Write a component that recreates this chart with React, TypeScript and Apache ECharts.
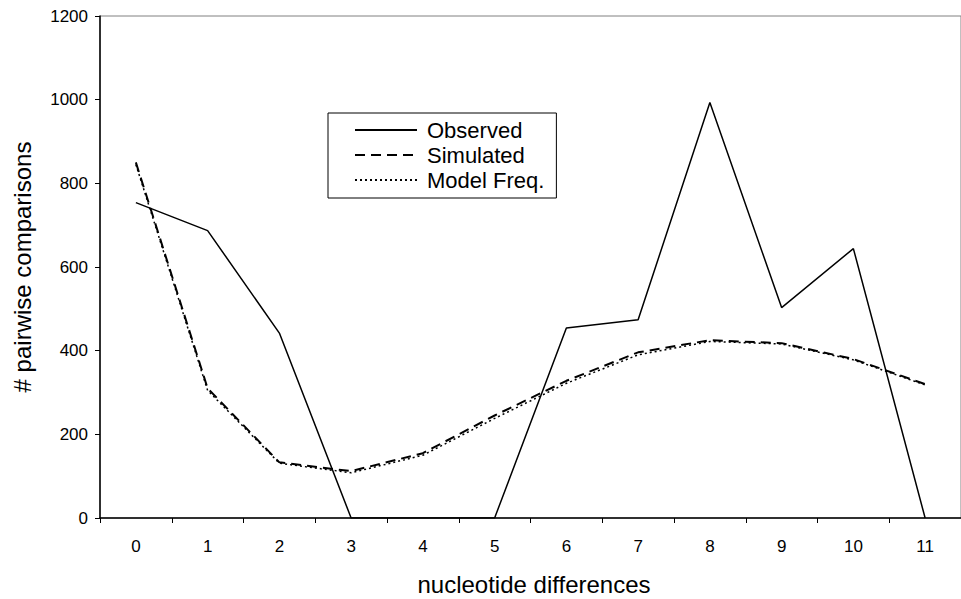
import React, { useEffect, useRef } from "react";
import * as echarts from "echarts";

const categories = ["0", "1", "2", "3", "4", "5", "6", "7", "8", "9", "10", "11"];
const observed = [754, 687, 442, 0, 0, 0, 454, 474, 993, 503, 644, 0];
const simulated = [850, 310, 133, 112, 155, 245, 328, 396, 425, 418, 380, 320];
const modelFreq = [845, 305, 131, 108, 150, 238, 322, 390, 422, 416, 378, 318];
const yTicks = { min: 0, max: 1200, interval: 200 };

const FONT = "Liberation Sans, Arial, Helvetica, sans-serif";

export default function App() {
  const ref = useRef<HTMLDivElement>(null);
  useEffect(() => {
    if (!ref.current) return;
    const chart = echarts.init(ref.current, undefined, { renderer: "svg" });
    chart.setOption({
      animation: false,
      backgroundColor: "#ffffff",
      textStyle: { fontFamily: FONT },
      grid: {
        left: 100,
        top: 16,
        width: 868,
        height: 502,
        show: true,
        borderColor: "#808080",
        borderWidth: 1,
        containLabel: false,
      },
      legend: {
        orient: "vertical",
        left: 328,
        top: 113,
        padding: [6, 12, 7, 26],
        itemGap: 3,
        itemWidth: 62,
        itemHeight: 14,
        borderColor: "#000",
        borderWidth: 1,
        backgroundColor: "#fff",
        itemStyle: { opacity: 0 },
        textStyle: {
          fontSize: 22,
          lineHeight: 20,
          color: "#000",
          fontFamily: FONT,
          padding: [0, 0, 0, 5],
        },
        data: ["Observed", "Simulated", "Model Freq."],
      },
      xAxis: {
        type: "category",
        data: categories,
        boundaryGap: true,
        axisLine: { lineStyle: { color: "#000", width: 1.5 } },
        axisTick: { show: true, interval: 0, length: 5, lineStyle: { color: "#000" } },
        axisLabel: { color: "#000", fontSize: 17, margin: 20, interval: 0, fontFamily: FONT },
        splitLine: { show: false },
      },
      yAxis: {
        type: "value",
        min: yTicks.min,
        max: yTicks.max,
        interval: yTicks.interval,
        axisLine: { show: true, lineStyle: { color: "#000", width: 1.5 } },
        axisTick: { show: true, length: 5, lineStyle: { color: "#000" } },
        axisLabel: {
          color: "#000",
          fontSize: 17,
          margin: 12,
          fontFamily: FONT,
          formatter: (v: number) => String(v),
        },
        splitLine: { show: false },
      },
      graphic: [
        {
          type: "text",
          x: 534,
          y: 584,
          style: {
            text: "nucleotide differences",
            fontSize: 24,
            fontFamily: FONT,
            fill: "#000",
            align: "center",
            verticalAlign: "middle",
          },
        },
        {
          type: "text",
          x: 22,
          y: 267,
          rotation: Math.PI / 2,
          style: {
            text: "# pairwise comparisons",
            fontSize: 24,
            fontFamily: FONT,
            fill: "#000",
            align: "center",
            verticalAlign: "middle",
          },
        },
      ],
      series: [
        {
          name: "Observed",
          type: "line",
          data: observed,
          symbol: "none",
          lineStyle: { color: "#000", width: 1.5, type: "solid" },
          itemStyle: { color: "#000" },
        },
        {
          name: "Simulated",
          type: "line",
          data: simulated,
          symbol: "none",
          lineStyle: { color: "#000", width: 2, type: [10, 6] },
          itemStyle: { color: "#000" },
        },
        {
          name: "Model Freq.",
          type: "line",
          data: modelFreq,
          symbol: "none",
          lineStyle: { color: "#000", width: 1.5, type: [2, 3] },
          itemStyle: { color: "#000" },
        },
      ],
    });
    return () => chart.dispose();
  }, []);
  return (
    <div
      ref={ref}
      style={{ position: "fixed", left: 0, top: 0, width: 961, height: 599, background: "#fff" }}
    />
  );
}
